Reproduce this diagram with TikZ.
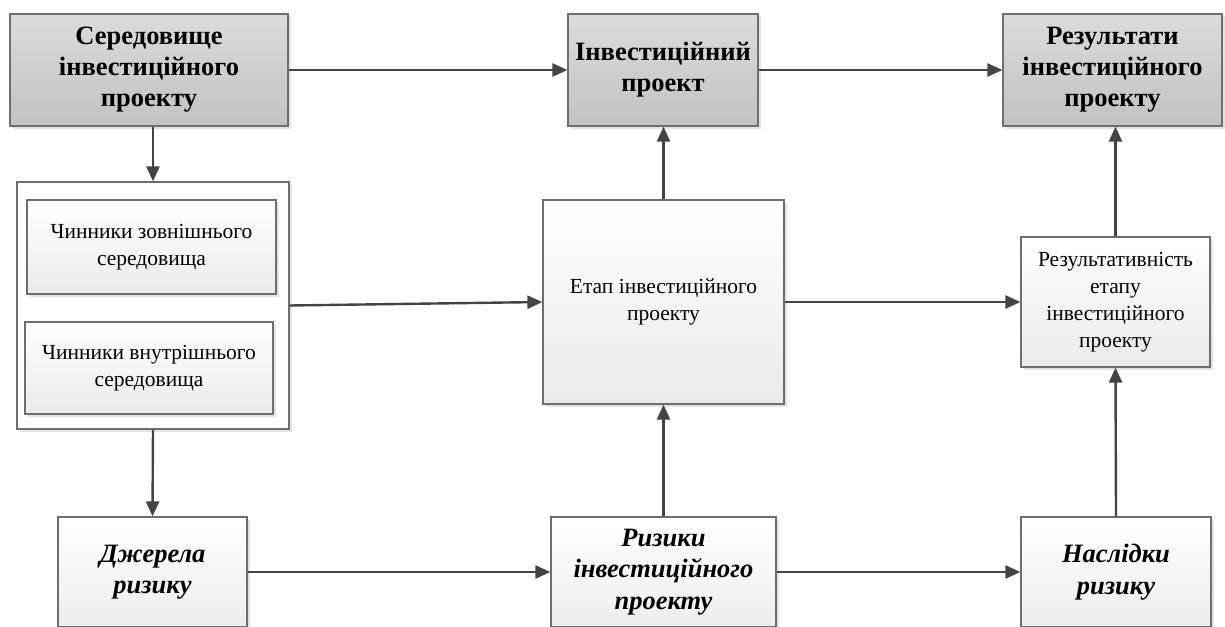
\documentclass[tikz,border=0pt]{standalone}
\usepackage{fontspec}
\setmainfont{Liberation Serif}[Ligatures=TeX]
\usetikzlibrary{arrows.meta,shadows}
\definecolor{edge}{HTML}{6E6E6E}
\definecolor{arr}{HTML}{444444}
\tikzset{
  base/.style={draw=edge, line width=1.2pt, align=center, inner sep=2pt,
    drop shadow={opacity=0.22, shadow xshift=2.5pt, shadow yshift=-2.5pt}},
  graybox/.style={base, top color=white!86!black, bottom color=white!76!black,
    font=\fontsize{26.5}{31}\selectfont\bfseries},
  whitebox/.style={base, top color=white, bottom color=white!92!black,
    font=\fontsize{21.5}{27}\selectfont},
  riskbox/.style={base, top color=white, bottom color=white!93!black,
    font=\fontsize{26.5}{31.5}\selectfont\bfseries\itshape},
  conn/.style={draw=arr, line width=2.4pt, -{Triangle[length=15pt,width=13pt]}},
}
\begin{document}
\begin{tikzpicture}[x=1pt,y=-1pt]
\useasboundingbox (0,0) rectangle (1225,626);
\clip (0,0) rectangle (1225,626);
\node[graybox, minimum width=278, minimum height=112] (env) at (149,70) {Середовище\\інвестиційного\\проекту};
\node[graybox, minimum width=190, minimum height=112] (proj) at (663,70) {Інвестиційний\\проект};
\node[graybox, minimum width=219, minimum height=112] (res) at (1112.5,70) {Результати\\інвестиційного\\проекту};
\node[base, fill=white, minimum width=272, minimum height=247] (fac) at (153,305.5) {};
\node[whitebox, minimum width=249, minimum height=94] (ext) at (151.5,247) {Чинники зовнішнього\\середовища};
\node[whitebox, minimum width=248, minimum height=92] (int) at (149,368) {Чинники внутрішнього\\середовища};
\node[whitebox, minimum width=241, minimum height=204] (stage) at (663.5,302) {Етап інвестиційного\\проекту};
\node[whitebox, minimum width=189, minimum height=130] (eff) at (1115.5,302) {Результативність\\етапу\\інвестиційного\\проекту};
\node[riskbox, minimum width=189, minimum height=110] (src) at (152.5,572) {Джерела\\ризику};
\node[riskbox, minimum width=225, minimum height=110] (risk) at (663.5,572) {Ризики\\інвестиційного\\проекту};
\node[riskbox, minimum width=190, minimum height=110] (cons) at (1116,572) {Наслідки\\ризику};
\draw[conn] (env.east) -- (proj.west);
\draw[conn] (proj.east) -- (res.west);
\draw[conn] (env.south -| fac.north) -- (fac.north);
\draw[conn] (fac.south) -- (src.north);
\draw[conn] (fac.east) -- (stage.west);
\draw[conn] (stage.north) -- (stage.north |- proj.south);
\draw[conn] (stage.east) -- (eff.west);
\draw[conn] (eff.north) -- (eff.north |- res.south);
\draw[conn] (src.east) -- (risk.west);
\draw[conn] (risk.north) -- (stage.south);
\draw[conn] (risk.east) -- (cons.west);
\draw[conn] (cons.north) -- (eff.south);
\end{tikzpicture}
\end{document}
